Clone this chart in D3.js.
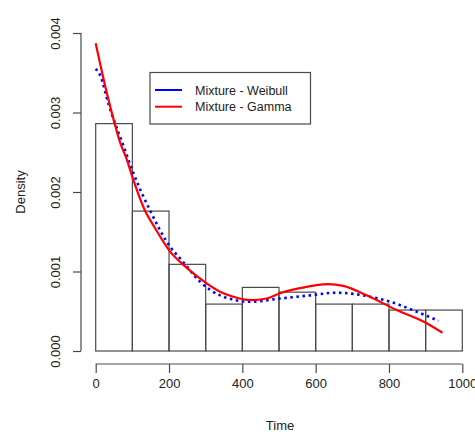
<!DOCTYPE html>
<html><head><meta charset="utf-8">
<script src="https://cdn.jsdelivr.net/npm/d3@7"></script>
<style>html,body{margin:0;padding:0;background:#fff;overflow:hidden}</style>
</head><body>
<script>
// Histogram bins (Time) and densities
const binEdges = [0,100,200,300,400,500,600,700,800,900,1000];
const binDensity = [0.00286,0.00176,0.00109,0.00059,0.00080,0.00074,0.00059,0.00059,0.000515,0.000515];
// Fitted curves (Time, Density)
const weibullTime = [0,12,36,75,103,148,203,234,285,339,421,503,585,657,730,803,876,935];
const weibullDens = [0.00355,0.00347,0.00309,0.00259,0.002235,0.00177,0.00131,0.001145,0.00087,0.00070,0.00062,0.00066,0.00070,0.000733,0.00070,0.00062,0.000494,0.00038];
const gammaTime = [0,25,53,66,84,100,134,160,203,240,285,339,375,421,466,503,557,634,675,739,821,903,946];
const gammaDens = [0.00387,0.00335,0.00284,0.00263,0.00242,0.00219,0.00177,0.00156,0.00125,0.00108,0.00091,0.000746,0.000683,0.00064,0.00066,0.000726,0.00079,0.00084,0.00082,0.00070,0.000516,0.00035,0.00023];
const xTicks = [0,200,400,600,800,1000];
const yTicks = [0,0.001,0.002,0.003,0.004];
const legendItems = [{label:"Mixture - Weibull", color:"#0000ff"},{label:"Mixture - Gamma", color:"#ff0000"}];

const W = 475, H = 432;
const svg = d3.select("body").append("svg").attr("width",W).attr("height",H)
  .style("font-family","'Liberation Sans', Arial, sans-serif");

const x = d3.scaleLinear().domain([0,1000]).range([95.7,462.3]);
const y = d3.scaleLinear().domain([0,0.004]).range([351,33]);
const lineCol = "#4a4a4a", textCol = "#222";

// Histogram bars
svg.append("g").selectAll("rect").data(binDensity).join("rect")
  .attr("x",(d,i)=>x(binEdges[i]))
  .attr("y",d=>y(d))
  .attr("width",(d,i)=>x(binEdges[i+1])-x(binEdges[i]))
  .attr("height",d=>y(0)-y(d))
  .attr("fill","none").attr("stroke",lineCol).attr("stroke-width",1.2);

// X axis (R style)
const xAxis = svg.append("g").attr("transform","translate(0,364)")
  .call(d3.axisBottom(x).tickValues(xTicks).tickSize(9).tickPadding(6).tickFormat(d3.format("d")));
xAxis.select(".domain").attr("d",`M${x(0)},0V0H${x(1000)}V0`).attr("stroke",lineCol).attr("stroke-width",1.2);
xAxis.selectAll(".tick line").attr("stroke",lineCol).attr("stroke-width",1.2);
xAxis.selectAll(".tick text").attr("fill",textCol).style("font-size","13px").style("font-family","'Liberation Sans', Arial, sans-serif");

// Y axis
const yAxis = svg.append("g").attr("transform","translate(81,0)")
  .call(d3.axisLeft(y).tickValues(yTicks).tickSize(8).tickFormat(d3.format(".3f")));
yAxis.select(".domain").attr("d",`M0,${y(0)}H0V${y(0.004)}H0`).attr("stroke",lineCol).attr("stroke-width",1.2);
yAxis.selectAll(".tick line").attr("stroke",lineCol).attr("stroke-width",1.2);
yAxis.selectAll(".tick text").attr("fill",textCol).style("font-size","13px").style("font-family","'Liberation Sans', Arial, sans-serif")
  .attr("x",null).attr("dy",null).attr("text-anchor","middle")
  .attr("transform","translate(-21,0) rotate(-90)").attr("y",0);

// Axis titles
svg.append("text").attr("x",280).attr("y",429.5).attr("text-anchor","middle")
  .attr("fill",textCol).style("font-size","13px").text("Time");
svg.append("text").attr("transform",`translate(25,${192}) rotate(-90)`).attr("text-anchor","middle")
  .attr("fill",textCol).style("font-size","13px").text("Density");

// Curves
const line = d3.line().x(d=>x(d[0])).y(d=>y(d[1])).curve(d3.curveMonotoneX);
svg.append("path").datum(weibullTime.map((t,i)=>[t,weibullDens[i]]))
  .attr("d",line).attr("fill","none").attr("stroke","#0000ff").attr("stroke-width",2.6)
  .attr("stroke-dasharray","2.5,3.6");
svg.append("path").datum(gammaTime.map((t,i)=>[t,gammaDens[i]]))
  .attr("d",line).attr("fill","none").attr("stroke","#ff0000").attr("stroke-width",2.2);

// Legend
const lg = svg.append("g");
lg.append("rect").attr("x",150).attr("y",72.5).attr("width",160.5).attr("height",51.5)
  .attr("fill","#fff").attr("stroke",lineCol).attr("stroke-width",1.2);
lg.selectAll("line").data(legendItems).join("line")
  .attr("x1",155).attr("x2",182).attr("y1",(d,i)=>90+i*16.7).attr("y2",(d,i)=>90+i*16.7)
  .attr("stroke",d=>d.color).attr("stroke-width",2);
lg.selectAll("text").data(legendItems).join("text")
  .attr("x",195).attr("y",(d,i)=>90+i*16.7).attr("dy","0.36em")
  .attr("fill",textCol).style("font-size","12.5px").text(d=>d.label);
</script>
</body></html>
